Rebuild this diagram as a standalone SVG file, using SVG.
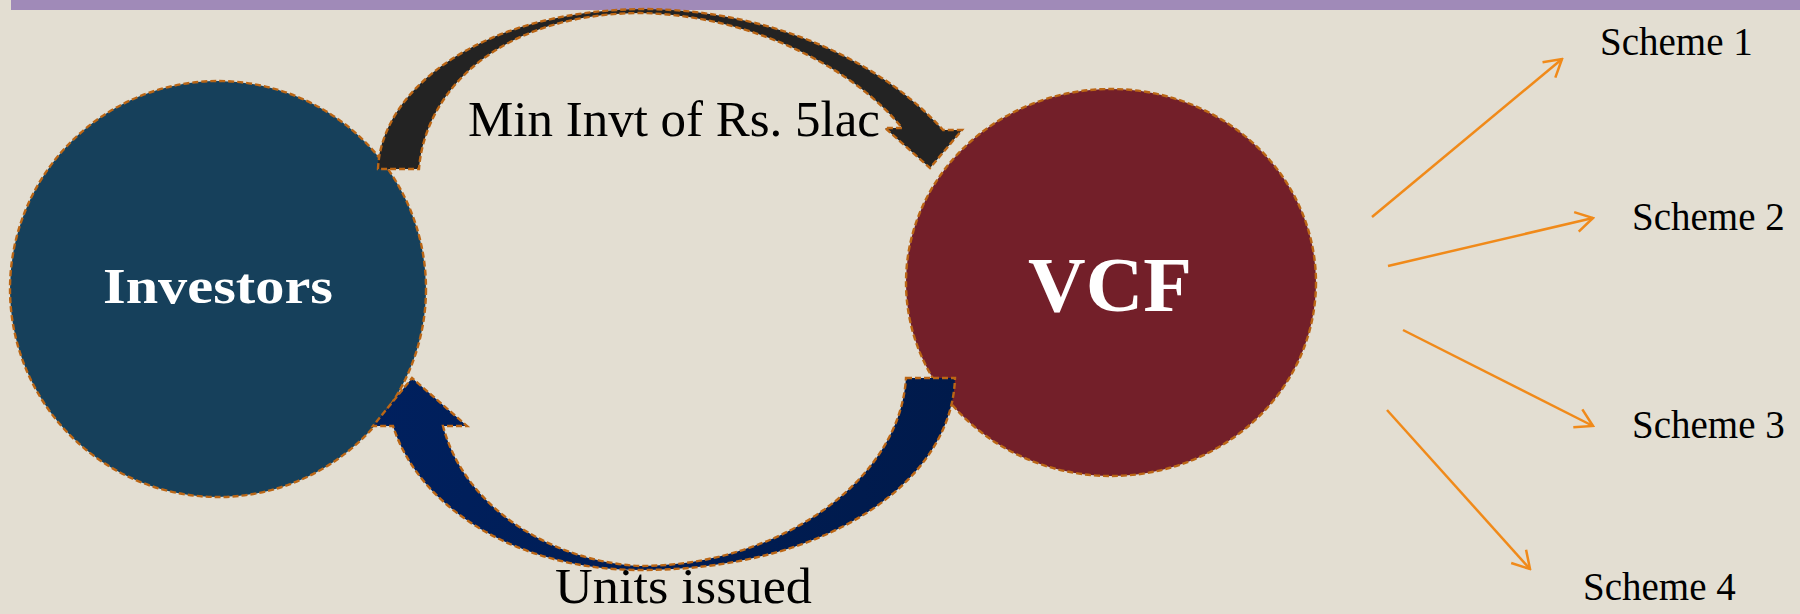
<svg xmlns="http://www.w3.org/2000/svg" width="1800" height="614" viewBox="0 0 1800 614">
  <defs>
    <style>
      .bg { fill: #e3ded2; }
      .bar { fill: #a08ab8; }
      .dash { stroke: #bb6615; stroke-width: 2.4; stroke-dasharray: 6 3; }
      .lbl { font-family: "Liberation Serif", "Times New Roman", serif; fill: #000; }
      .node-lbl { font-family: "Liberation Serif", "Times New Roman", serif; font-weight: bold; fill: #fff; }
      .scheme { font-family: "Liberation Serif", "Times New Roman", serif; font-size: 39px; fill: #000; }
      .branch { stroke: #f08a1a; stroke-width: 2.5; fill: none; marker-end: url(#chev); }
    </style>
    <marker id="chev" viewBox="-20 -12 22 24" refX="0" refY="0" markerUnits="userSpaceOnUse" markerWidth="22" markerHeight="24" orient="auto">
      <path d="M-17,-10 L0,0 L-17,10" fill="none" stroke="#f08a1a" stroke-width="2.5"/>
    </marker>
    <linearGradient id="navy" x1="0" y1="0" x2="1" y2="0">
      <stop offset="0" stop-color="#00205e"/>
      <stop offset="1" stop-color="#001a4b"/>
    </linearGradient>
  </defs>

  <rect class="bg" x="0" y="0" width="1800" height="614"/>
  <rect class="bar" x="11" y="0" width="1789" height="10"/>

  <g id="investors">
    <circle class="dash" cx="218" cy="289" r="208" fill="#16405b"/>
    <text class="node-lbl" x="218" y="303" font-size="50" text-anchor="middle" textLength="230" lengthAdjust="spacingAndGlyphs">Investors</text>
  </g>

  <g id="vcf">
    <ellipse class="dash" cx="1111" cy="282.5" rx="205" ry="193.5" fill="#731f29"/>
    <text class="node-lbl" x="1110" y="311" font-size="79" text-anchor="middle" textLength="164" lengthAdjust="spacingAndGlyphs">VCF</text>
  </g>

  <g id="connectors">
    <g id="arrow-invest">
      <path class="dash" fill="#232323" d="M378,169 C381,90 480,10 645,9 C770,10 880,60 943,130 L962,130 L930,168 L885,128 L902,128 C860,75 760,15 640,13 C500,14 425,90 419,169 Z"/>
    </g>
    <g id="arrow-units">
      <path class="dash" fill="url(#navy)" d="M906,378 L955,378 C952,480 830,570 640,570 C520,570 420,510 393,426 L373,426 L412,378 L467,426 L443,426 C465,510 555,562 640,566 C780,566 900,480 906,378 Z"/>
    </g>
    <line class="branch" x1="1372" y1="217" x2="1562" y2="59"/>
    <line class="branch" x1="1388" y1="266" x2="1593" y2="218"/>
    <line class="branch" x1="1403" y1="330" x2="1593" y2="426"/>
    <line class="branch" x1="1387" y1="410" x2="1530" y2="569"/>
  </g>

  <g id="labels">
    <text class="lbl" x="468" y="136" font-size="50" textLength="412" lengthAdjust="spacingAndGlyphs">Min Invt of Rs. 5lac</text>
    <text class="lbl" x="555" y="603" font-size="50" textLength="257" lengthAdjust="spacingAndGlyphs">Units issued</text>
  </g>

  <g id="scheme1"><text class="scheme" x="1600" y="55">Scheme 1</text></g>
  <g id="scheme2"><text class="scheme" x="1632" y="230">Scheme 2</text></g>
  <g id="scheme3"><text class="scheme" x="1632" y="438">Scheme 3</text></g>
  <g id="scheme4"><text class="scheme" x="1583" y="600">Scheme 4</text></g>
</svg>
